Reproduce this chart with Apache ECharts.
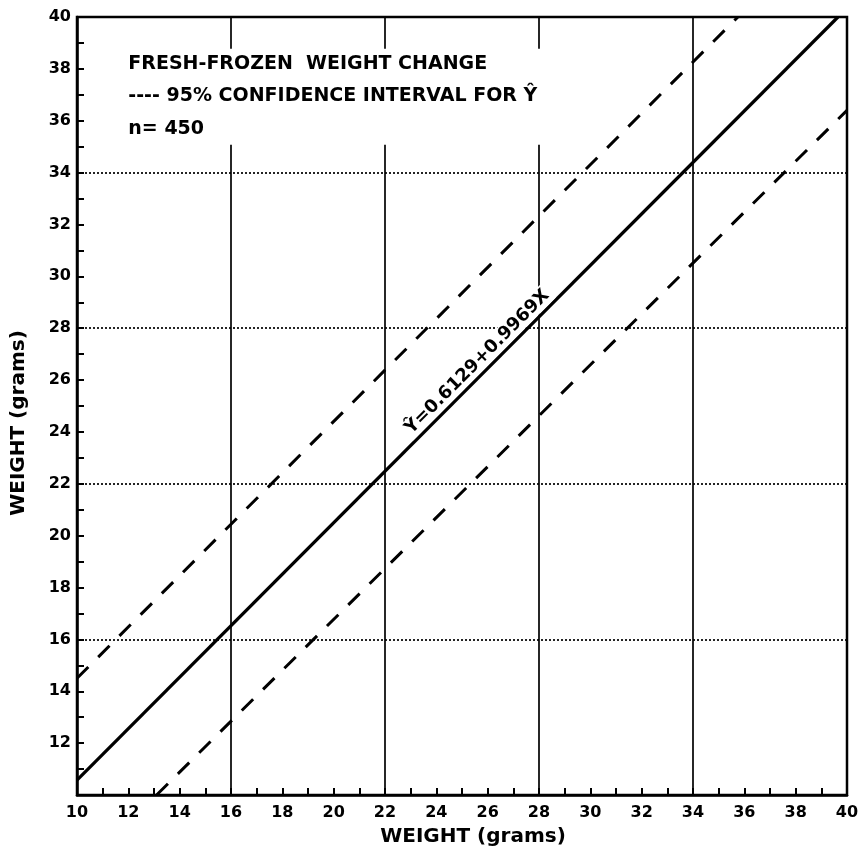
<!DOCTYPE html>
<html><head><meta charset="utf-8">
<script src="https://cdn.jsdelivr.net/npm/echarts/dist/echarts.min.js"></script>
<style>html,body{margin:0;padding:0;background:#fff}#c{width:865px;height:855px}</style>
</head><body><div id="c"></div>
<script>
// ---- data ----
const xTickLabels = [10,12,14,16,18,20,22,24,26,28,30,32,34,36,38,40];
const yTickLabels = [12,14,16,18,20,22,24,26,28,30,32,34,36,38,40];
const fitLine = [[10,10.57],[39.65,40]];
const upperCI = [[10,14.5],[35.75,40]];
const lowerCI = [[13.1,10],[40,36.4]];
const gridX = [16,22,28,34];
const gridY = [16,22,28,34];
const titleLines = ['FRESH-FROZEN  WEIGHT CHANGE','---- 95% CONFIDENCE INTERVAL FOR Ŷ','n= 450'];
const equationText = 'Ŷ=0.6129+0.9969X';
const equationAnchor = [25.6, 26.7];
const titleAnchor = [12.0, 38.2];
const axisTitle = 'WEIGHT (grams)';

const FONT = 'DejaVu Sans';
const chart = echarts.init(document.getElementById('c'), null, {renderer:'canvas'});

const axisCommon = {
  type:'value', min:10, max:40, interval:1,
  axisLine:{show:true, onZero:false, lineStyle:{color:'#000', width:2.5}},
  axisTick:{show:true, inside:true, length:7, lineStyle:{color:'#000', width:2}},
  splitLine:{show:false},
  nameLocation:'middle',
  nameTextStyle:{color:'#000', fontFamily:FONT, fontWeight:'bold', fontSize:20}
};

chart.setOption({
  backgroundColor:'#fff',
  animation:false,
  grid:{left:77, right:18, top:17, bottom:60, show:true, borderColor:'#000', borderWidth:2.5, backgroundColor:'transparent'},
  xAxis:Object.assign({}, axisCommon, {
    name:axisTitle, nameGap:32,
    nameTextStyle:Object.assign({}, axisCommon.nameTextStyle, {padding:[0,0,0,22]}),
    axisLabel:{margin:10, color:'#000', fontFamily:FONT, fontWeight:'bold', fontSize:16,
      formatter:v => xTickLabels.includes(v) ? String(v) : ''}
  }),
  yAxis:Object.assign({}, axisCommon, {
    name:axisTitle, nameGap:48,
    nameTextStyle:Object.assign({}, axisCommon.nameTextStyle, {padding:[0,34,0,0]}),
    axisLabel:{margin:6, color:'#000', fontFamily:FONT, fontWeight:'bold', fontSize:16,
      formatter:v => yTickLabels.includes(v) ? String(v) : ''}
  }),
  series:[
    {type:'line', data:[], silent:true, z:1,
     markLine:{silent:true, symbol:'none', label:{show:false}, animation:false,
       lineStyle:{color:'#000', width:1.7, type:'solid'},
       data:gridX.map(v => ({xAxis:v}))}},
    {type:'line', data:[], silent:true, z:1,
     markLine:{silent:true, symbol:'none', label:{show:false}, animation:false,
       lineStyle:{color:'#000', width:1.7, type:[2,2]},
       data:gridY.map(v => ({yAxis:v}))}},
    {type:'line', data:fitLine, symbol:'none', z:3, clip:true,
     lineStyle:{color:'#000', width:3.2, type:'solid'}},
    {type:'line', data:upperCI, symbol:'none', z:3, clip:true,
     lineStyle:{color:'#000', width:3, type:[16,14]}},
    {type:'line', data:lowerCI, symbol:'none', z:3, clip:true,
     lineStyle:{color:'#000', width:3, type:[16,14]}}
  ]
});

// annotations placed through the axes
const p0 = chart.convertToPixel({gridIndex:0}, fitLine[0]);
const p1 = chart.convertToPixel({gridIndex:0}, fitLine[1]);
const ang = Math.atan2(p0[1]-p1[1], p1[0]-p0[0]);
const eq = chart.convertToPixel({gridIndex:0}, equationAnchor);
const tl = chart.convertToPixel({gridIndex:0}, titleAnchor);

const graphics = [
  {type:'rect', z:50, silent:true, shape:{x:tl[0]-4, y:tl[1]-15, width:470, height:96},
   style:{fill:'#fff'}}
];
titleLines.forEach((t,i) => graphics.push({
  type:'text', z:60, silent:true, x:tl[0], y:tl[1] + i*32.5,
  style:{text:t, fill:'#000', font:'bold 19px "'+FONT+'"', verticalAlign:'middle', align:'left'}
}));
graphics.push({type:'text', z:60, silent:true, x:eq[0], y:eq[1], rotation:ang,
  style:{text:equationText, fill:'#000', font:'bold 18px "'+FONT+'"', align:'center', verticalAlign:'middle',
    backgroundColor:'#fff', padding:[1,3]}});
chart.setOption({graphic:graphics});
</script></body></html>
